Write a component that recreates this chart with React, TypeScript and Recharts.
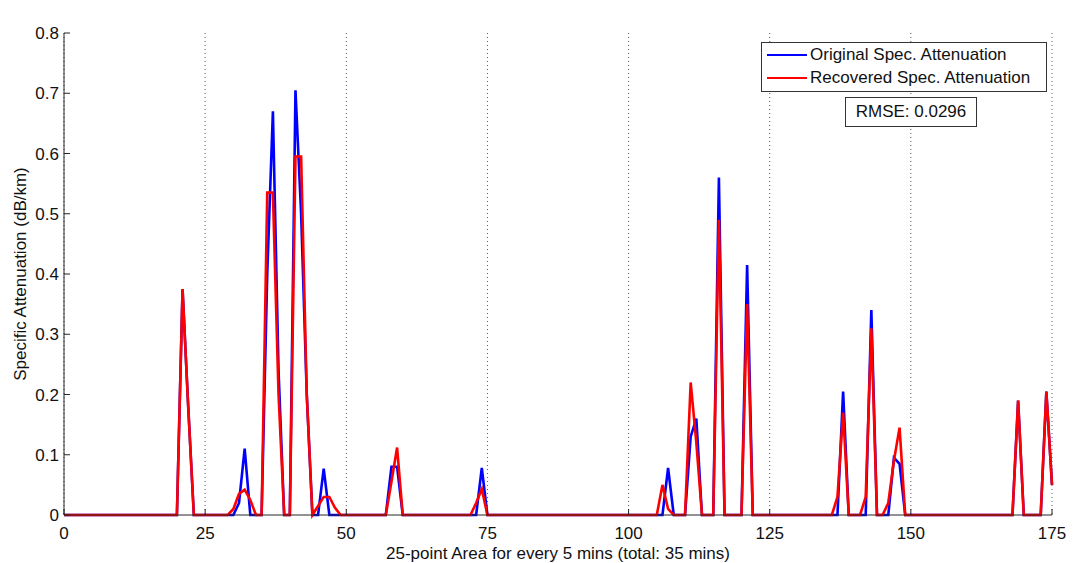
import { CartesianGrid, Label, Line, LineChart, XAxis, YAxis } from "recharts";

// samples 0..175, one row per 25-point block
const original = [
  0, 0, 0, 0, 0, 0, 0, 0, 0, 0, 0, 0, 0, 0, 0, 0, 0, 0, 0, 0, 0, 0.375, 0.18, 0, 0,
  0, 0, 0, 0, 0, 0, 0.02, 0.11, 0, 0, 0, 0.4, 0.67, 0.24, 0, 0, 0.705, 0.5, 0.2, 0, 0, 0.077, 0, 0, 0,
  0, 0, 0, 0, 0, 0, 0, 0, 0.08, 0.08, 0, 0, 0, 0, 0, 0, 0, 0, 0, 0, 0, 0, 0, 0, 0.078,
  0, 0, 0, 0, 0, 0, 0, 0, 0, 0, 0, 0, 0, 0, 0, 0, 0, 0, 0, 0, 0, 0, 0, 0, 0,
  0, 0, 0, 0, 0, 0, 0, 0.078, 0, 0, 0, 0.13, 0.16, 0, 0, 0, 0.56, 0, 0, 0, 0, 0.415, 0, 0, 0,
  0, 0, 0, 0, 0, 0, 0, 0, 0, 0, 0, 0, 0, 0.205, 0, 0, 0, 0, 0.34, 0, 0, 0, 0.095, 0.085, 0,
  0, 0, 0, 0, 0, 0, 0, 0, 0, 0, 0, 0, 0, 0, 0, 0, 0, 0, 0, 0.19, 0, 0, 0, 0, 0.205,
  0.05,
];

const recovered = [
  0, 0, 0, 0, 0, 0, 0, 0, 0, 0, 0, 0, 0, 0, 0, 0, 0, 0, 0, 0, 0, 0.375, 0.18, 0, 0,
  0, 0, 0, 0, 0, 0.01, 0.035, 0.042, 0.025, 0, 0, 0.535, 0.535, 0.2, 0, 0, 0.595, 0.595, 0.2, 0, 0.015, 0.03, 0.03, 0.012, 0,
  0, 0, 0, 0, 0, 0, 0, 0, 0.055, 0.112, 0, 0, 0, 0, 0, 0, 0, 0, 0, 0, 0, 0, 0, 0.02, 0.043,
  0, 0, 0, 0, 0, 0, 0, 0, 0, 0, 0, 0, 0, 0, 0, 0, 0, 0, 0, 0, 0, 0, 0, 0, 0,
  0, 0, 0, 0, 0, 0, 0.05, 0.01, 0, 0, 0, 0.22, 0.12, 0, 0, 0, 0.49, 0, 0, 0, 0, 0.35, 0, 0, 0,
  0, 0, 0, 0, 0, 0, 0, 0, 0, 0, 0, 0, 0.03, 0.17, 0, 0, 0, 0.03, 0.31, 0, 0, 0.02, 0.09, 0.145, 0,
  0, 0, 0, 0, 0, 0, 0, 0, 0, 0, 0, 0, 0, 0, 0, 0, 0, 0, 0, 0.19, 0, 0, 0, 0, 0.205,
  0.05,
];

const xTicks = [0, 25, 50, 75, 100, 125, 150, 175];
const yTicks = [0, 0.1, 0.2, 0.3, 0.4, 0.5, 0.6, 0.7, 0.8];

const BLUE = "#0000ff";
const RED = "#ff0000";
const AXIS = "#262626";
const FONT = "'Liberation Sans', Arial, sans-serif";
const FS = 17;

const data = original.map((v, i) => ({ x: i, original: v, recovered: recovered[i] }));

export default function App() {
  return (
    <div style={{ position: "absolute", left: 0, top: 0, width: 1073, height: 563, background: "#fff", fontFamily: FONT }}>
      <LineChart width={1073} height={563} data={data} margin={{ top: 33, right: 21, bottom: 0, left: 0 }}>
        <CartesianGrid horizontal={false} stroke="#555" strokeDasharray="1 3" />
        <XAxis
          dataKey="x"
          type="number"
          domain={[0, 175]}
          ticks={xTicks}
          height={48}
          stroke={AXIS}
          tickSize={-6}
          tickMargin={18}
          tick={{ fontSize: FS, fill: "#111", fontFamily: FONT }}
        >
          <Label
            content={() => (
              <text x={558} y={553} textAnchor="middle" dominantBaseline="central" fontSize={FS} fill="#111" fontFamily={FONT}>
                25-point Area for every 5 mins (total: 35 mins)
              </text>
            )}
          />
        </XAxis>
        <XAxis
          xAxisId="top"
          orientation="top"
          dataKey="x"
          type="number"
          domain={[0, 175]}
          ticks={xTicks}
          height={0}
          stroke={AXIS}
          tickSize={-6}
          tickFormatter={() => ""}
        >
          <Label
            content={() => (
              <text x={558} y={15} textAnchor="middle" dominantBaseline="central" fontSize={FS} fill="#111" fontFamily={FONT}>
                Determining Rain Location from Specific Attenuation: Light Rain
              </text>
            )}
          />
        </XAxis>
        <YAxis
          type="number"
          domain={[0, 0.8]}
          ticks={yTicks}
          width={64}
          stroke={AXIS}
          tickSize={-6}
          tickMargin={11}
          tickFormatter={(v: number) => (v === 0 ? "0" : v.toFixed(1))}
          tick={{ fontSize: FS, fill: "#111", fontFamily: FONT }}
        >
          <Label
            content={() => (
              <text
                x={20}
                y={274}
                transform="rotate(-90, 20, 274)"
                textAnchor="middle"
                dominantBaseline="central"
                fontSize={FS}
                fill="#111"
                fontFamily={FONT}
              >
                Specific Attenuation (dB/km)
              </text>
            )}
          />
        </YAxis>
        <YAxis
          yAxisId="right"
          orientation="right"
          type="number"
          domain={[0, 0.8]}
          ticks={yTicks}
          width={0}
          stroke={AXIS}
          tickSize={-6}
          tickFormatter={() => ""}
        />
        <Line type="linear" dataKey="original" stroke={BLUE} strokeWidth={2.6} dot={false} isAnimationActive={false} />
        <Line type="linear" dataKey="recovered" stroke={RED} strokeWidth={2.6} dot={false} isAnimationActive={false} />
      </LineChart>

      {/* legend box */}
      <div
        style={{
          position: "absolute",
          left: 761,
          top: 42,
          width: 284,
          height: 48,
          border: "1px solid #333",
          background: "#fff",
          fontSize: FS,
          color: "#111",
        }}
      >
        {[
          { label: "Original Spec. Attenuation", color: BLUE },
          { label: "Recovered Spec. Attenuation", color: RED },
        ].map((item, i) => (
          <div key={item.label} style={{ position: "absolute", left: 5, top: 2 + i * 23, height: 20, display: "flex", alignItems: "center" }}>
            <span style={{ display: "inline-block", width: 40, height: 2, background: item.color, marginRight: 3 }} />
            <span style={{ whiteSpace: "nowrap" }}>{item.label}</span>
          </div>
        ))}
      </div>

      {/* RMSE annotation */}
      <div
        style={{
          position: "absolute",
          left: 845,
          top: 97,
          width: 130,
          height: 28,
          border: "1px solid #333",
          background: "#fff",
          fontSize: FS,
          color: "#111",
          display: "flex",
          alignItems: "center",
          justifyContent: "center",
        }}
      >
        RMSE: 0.0296
      </div>
    </div>
  );
}
